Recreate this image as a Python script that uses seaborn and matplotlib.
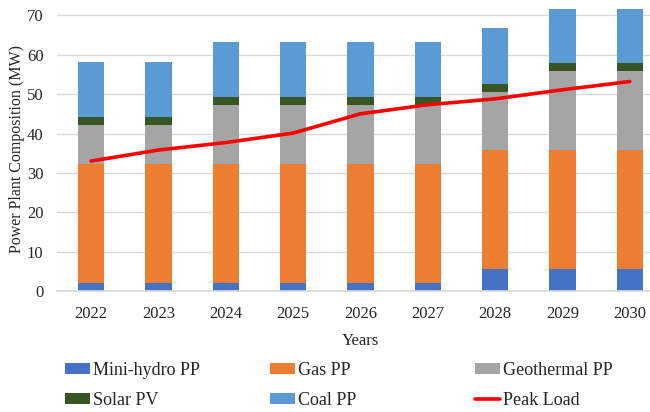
import matplotlib
matplotlib.use("Agg")
import matplotlib.pyplot as plt
import seaborn as sns
import pandas as pd
import numpy as np
from matplotlib.patches import Patch
from matplotlib.lines import Line2D

years = ["2022", "2023", "2024", "2025", "2026", "2027", "2028", "2029", "2030"]
mini_hydro = [2.0, 2.0, 2.0, 2.0, 2.0, 2.0, 5.5, 5.5, 5.5]
gas = [30.3, 30.3, 30.3, 30.3, 30.3, 30.3, 30.3, 30.3, 30.3]
geothermal = [9.8, 9.8, 15.0, 15.0, 15.0, 15.0, 14.8, 20.0, 20.0]
solar = [2.0, 2.0, 2.0, 2.0, 2.0, 2.0, 2.0, 2.0, 2.0]
coal = [14.1, 14.1, 13.9, 13.9, 13.9, 13.9, 14.1, 13.9, 13.9]
peak_load = [33.0, 35.8, 37.7, 40.1, 45.0, 47.3, 48.8, 51.1, 53.2]

series_names = ["Mini-hydro PP", "Gas PP", "Geothermal PP", "Solar PV", "Coal PP"]
series_vals = [mini_hydro, gas, geothermal, solar, coal]
colors = ["#4472C4", "#ED7D31", "#A5A5A5", "#375623", "#5B9BD5"]
line_color = "#FF0000"
text_color = "#262626"

sns.set_theme(style="white")
plt.rcParams["font.family"] = ["Liberation Serif", "DejaVu Serif"]

fig = plt.figure(figsize=(6.5, 4.12), dpi=100)
ax = fig.add_axes([57.4 / 650, 1 - 291 / 412, 606 / 650, 283.5 / 412])

bottom = np.zeros(len(years))
for name, vals, c in zip(series_names, series_vals, colors):
    df = pd.DataFrame({"Year": years, "Value": vals})
    sns.barplot(data=df, x="Year", y="Value", order=years, color=c,
                width=0.39, bottom=bottom, ax=ax, saturation=1,
                linewidth=0, zorder=2)
    bottom = bottom + np.array(vals)

dfl = pd.DataFrame({"Year": years, "Peak": peak_load})
sns.lineplot(data=dfl, x="Year", y="Peak", color=line_color, linewidth=2.6,
             ax=ax, zorder=3, sort=False)

ax.set_xlim(-0.5, 8.5)
ax.set_ylim(0, 72)
ax.set_yticks(np.arange(0, 71, 10))
ax.yaxis.grid(True, color="#D9D9D9", linewidth=1, zorder=0)
ax.set_axisbelow(True)
for s in ["top", "right", "left"]:
    ax.spines[s].set_visible(False)
ax.spines["bottom"].set_color("#D9D9D9")
ax.tick_params(axis="both", length=0, labelsize=12, colors=text_color)
ax.tick_params(axis="x", pad=11)
ax.tick_params(axis="y", pad=10)
ax.set_xlabel("Years", fontsize=12, color=text_color, labelpad=8)
ax.set_ylabel("Power Plant Composition (MW)", fontsize=11.5, color=text_color, labelpad=1)

handles = [Patch(facecolor=c, edgecolor="none") for c in colors]
handles.append(Line2D([0], [0], color=line_color, linewidth=2.6))
labels = series_names + ["Peak Load"]
columns = [[0, 3], [1, 4], [2, 5]]
col_x = [65, 270, 475]
for xs, idx in zip(col_x, columns):
    leg = fig.legend([handles[i] for i in idx], [labels[i] for i in idx],
                     loc="upper left", bbox_to_anchor=(xs / 650, 1 - 362 / 412),
                     frameon=False, fontsize=13, ncol=1,
                     handlelength=1.39, handleheight=0.6, handletextpad=0.17,
                     labelspacing=0.72, borderpad=0, borderaxespad=0)
    for t in leg.get_texts():
        t.set_color(text_color)

fig.savefig("out.png", dpi=100)
